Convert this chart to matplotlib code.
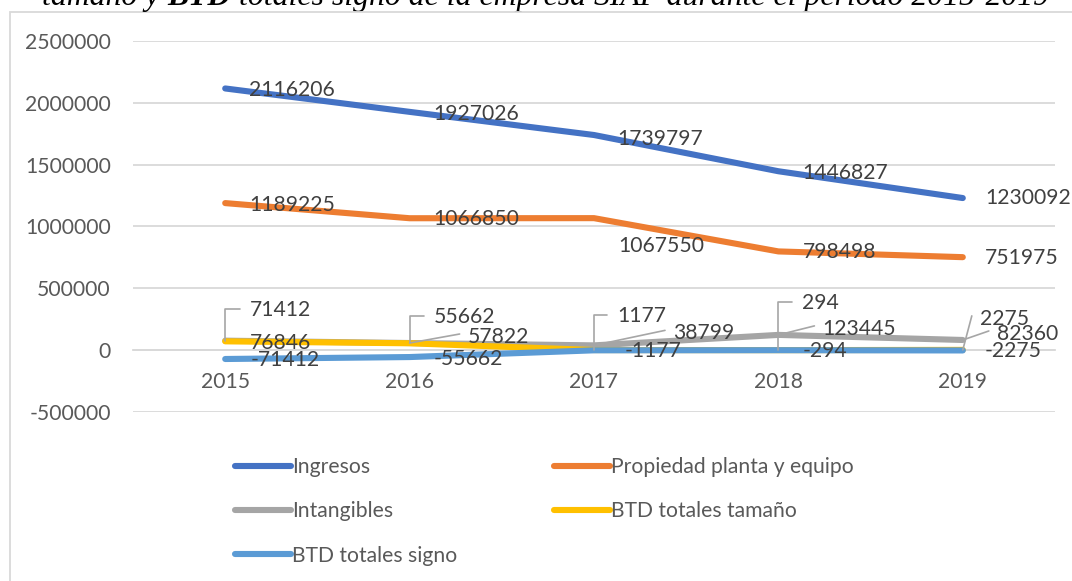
import matplotlib
matplotlib.use("Agg")
import matplotlib.pyplot as plt
from matplotlib.patches import Rectangle
from matplotlib.ticker import StrMethodFormatter

plt.rcParams["font.family"] = ["Lato", "DejaVu Sans"]
plt.rcParams["axes.unicode_minus"] = False

# data
years = ["2015", "2016", "2017", "2018", "2019"]
ingresos = [2116206, 1927026, 1739797, 1446827, 1230092]
propiedad = [1189225, 1066850, 1067550, 798498, 751975]
intangibles = [76846, 57822, 38799, 123445, 82360]
btd_tamano = [71412, 55662, 1177, 294, 2275]
btd_signo = [-71412, -55662, -1177, -294, -2275]

names = ["Ingresos", "Propiedad planta y equipo", "Intangibles",
         "BTD totales tamaño", "BTD totales signo"]
colors = ["#4472C4", "#ED7D31", "#A5A5A5", "#FFC000", "#5B9BD5"]
series = [ingresos, propiedad, intangibles, btd_tamano, btd_signo]

# label placement in pixels (dx, dy screen-down) and leader type per point
label_pos = [
    [(24, 2), (24, 2), (23, 4), (24, 2), (22, 0)],
    [(24, 2), (24, 1), (24, 28), (24, 1), (22, 1)],
    [(25, 2), (58, -6), (79, -12), (44, -6), (34, -6)],
    [(25, -31), (24, -26), (23, -34), (24, -47), (17, -31)],
    [(25, 1), (24, 2), (31, 1), (24, 1), (22, 1)],
]
leaders = [
    [None] * 5,
    [None] * 5,
    [None, "diag", "diag", "diag", "diag"],
    ["bracket", "bracket", "bracket", "bracket", "diag"],
    [None] * 5,
]

FS = 15.2
W, H = 1072, 581
fig = plt.figure(figsize=(W / 100, H / 100), dpi=100)
ax = fig.add_axes([133 / W, 1 - 412 / H, (1055 - 133) / W, (412 - 41) / H])

x = list(range(len(years)))
handles = []
for vals, name, c in zip(series, names, colors):
    h, = ax.plot(x, vals, color=c, lw=4.4, solid_capstyle="round",
                 solid_joinstyle="round", label=name, zorder=3)
    handles.append(h)

# data labels, with Excel-like leader lines for the crowded ones near zero
lead_col = "#A6A6A6"
for vals, pos, lead in zip(series, label_pos, leaders):
    for i, v in enumerate(vals):
        dx, dy = pos[i]
        ax.annotate(str(v), xy=(i, v), xytext=(dx, -dy), textcoords="offset pixels",
                    ha="left", va="center", fontsize=FS, color="#404040", zorder=5)
        kind = lead[i]
        if kind == "bracket":
            ax.annotate("", xy=(i, v), xytext=(dx - 10, -dy + 1), textcoords="offset pixels",
                        arrowprops=dict(arrowstyle="-", color=lead_col, lw=1.2,
                                        shrinkA=0, shrinkB=0,
                                        connectionstyle="angle,angleA=0,angleB=90,rad=0"),
                        zorder=4)
        elif kind == "diag":
            ax.annotate("", xy=(i, v), xytext=(dx - 8, -dy + 3), textcoords="offset pixels",
                        arrowprops=dict(arrowstyle="-", color=lead_col, lw=1.2,
                                        shrinkA=0, shrinkB=0), zorder=4)

ax.set_xlim(-0.5, len(years) - 0.5)
ax.set_ylim(-500000, 2500000)
ax.set_yticks(range(-500000, 2500001, 500000))
ax.yaxis.set_major_formatter(StrMethodFormatter("{x:.0f}"))
ax.set_xticks(x)
ax.set_xticklabels(years)
ax.grid(axis="y", color="#D9D9D9", lw=1.3)
ax.set_axisbelow(True)
for s in ["top", "right", "left"]:
    ax.spines[s].set_visible(False)
ax.spines["bottom"].set_position(("data", 0))
ax.spines["bottom"].set_color("#D9D9D9")
ax.spines["bottom"].set_linewidth(1.3)
ax.tick_params(axis="both", length=0, labelsize=FS, colors="#595959")
ax.tick_params(axis="y", pad=16)
ax.tick_params(axis="x", pad=16)

# legend filled row by row like Excel
order = [0, 2, 4, 1, 3]
fig.legend([handles[k] for k in order], [names[k] for k in order],
           ncol=2, loc="upper left", bbox_to_anchor=(216 / W, 1 - 438 / H),
           frameon=False, fontsize=FS, labelcolor="#595959",
           handlelength=2.65, handletextpad=0.05, columnspacing=4.6,
           labelspacing=1.15)

# chart border (partly cropped off the picture)
fig.patches.append(Rectangle((10 / W, -0.1), 1.2, 1 - 12 / H + 0.1,
                             transform=fig.transFigure, fill=False,
                             edgecolor="#D9D9D9", lw=1.3))

# title, cropped at the top of the picture
TS = 22.85
t1 = fig.text(42 / W, 1 - 5 / H, "tamaño y ", fontsize=TS, style="italic",
              family="Liberation Serif", ha="left", va="baseline")
t2 = ax.annotate("BTD", xy=(1, 0), xycoords=t1, fontsize=TS, style="italic",
                 weight="bold", family="Liberation Serif", ha="left", va="bottom",
                 annotation_clip=False)
t3 = ax.annotate(" totales signo de la empresa SIAP durante el periodo 2015-2019",
                 xy=(1, 0), xycoords=t2, fontsize=TS, style="italic",
                 family="Liberation Serif", ha="left", va="bottom",
                 annotation_clip=False)

fig.savefig("out.png", dpi=100)
